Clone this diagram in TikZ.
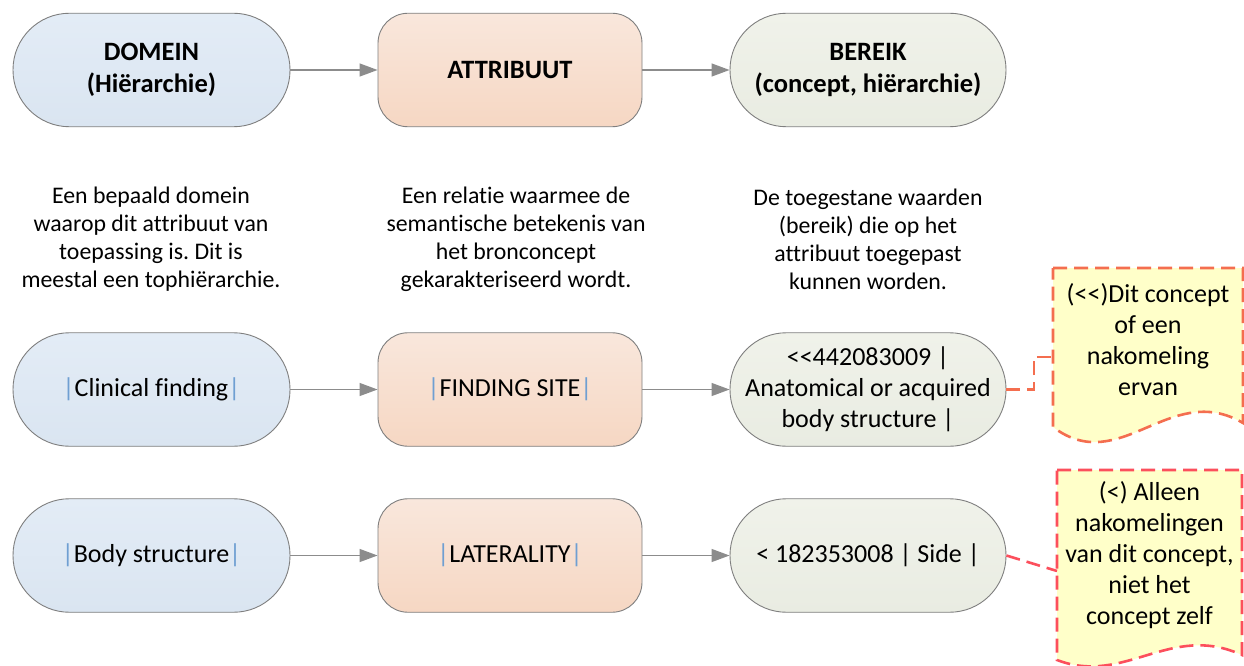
\documentclass[tikz,border=0pt]{standalone}
\usepackage{fontspec}
\setmainfont{Carlito}[Ligatures=NoCommon]
\usetikzlibrary{arrows.meta,calc}
\frenchspacing

\definecolor{edgegray}{HTML}{7F7F7F}
\definecolor{arrowgray}{HTML}{8C8C8C}
\definecolor{domtop}{HTML}{E3ECF6}
\definecolor{dombot}{HTML}{DAE5F1}
\definecolor{atttop}{HTML}{F9E7DC}
\definecolor{attbot}{HTML}{F6D7C3}
\definecolor{rngtop}{HTML}{F0F2EA}
\definecolor{rngbot}{HTML}{E9ECE2}
\definecolor{barblue}{HTML}{6F9FD2}
\definecolor{notefill}{HTML}{FFFFC9}
\definecolor{noteorange}{HTML}{F46E4F}
\definecolor{notered}{HTML}{FC4F5C}

% coloured separators around concept names
\newcommand\sctbar{\textcolor{barblue}{|}}
% two separate less-than signs (no guillemet ligature)
\newcommand\desc{<\kern0pt<}

\begin{document}
\begin{tikzpicture}[x=1pt,y=-1pt,
  base/.style={draw=edgegray, line width=0.9pt, minimum height=113.5pt,
    inner sep=0pt, align=center, font=\fontsize{26}{31}\selectfont},
  headfont/.style={font=\fontsize{26.5}{32}\selectfont\bfseries},
  domainbox/.style={base, minimum width=277pt, rounded corners=56.5pt,
    top color=domtop, bottom color=dombot},
  attrbox/.style={base, minimum width=264pt, rounded corners=30pt,
    top color=atttop, bottom color=attbot},
  rangebox/.style={base, minimum width=276pt, rounded corners=56.5pt,
    top color=rngtop, bottom color=rngbot},
  desctext/.style={align=center, inner sep=0pt, font=\fontsize{23.8}{28}\selectfont},
  notetext/.style={align=center, inner sep=0pt, font=\fontsize{26}{31}\selectfont},
  flow/.style={draw=arrowgray, line width=1.3pt, -{Triangle[length=18pt,width=13pt]}},
  notedash/.style={line width=2.6pt, dash pattern=on 14pt off 7pt},
]
\useasboundingbox[fill=white] (0,0) rectangle (1244,666);

% header row
\node[domainbox, headfont] (d1) at (151.5,70) {DOMEIN\\(Hiërarchie)};
\node[attrbox, headfont]   (a1) at (510,70)   {ATTRIBUUT};
\node[rangebox, headfont]  (r1) at (868,70)   {BEREIK\\(concept, hiërarchie)};
\draw[flow] (d1) -- (a1);
\draw[flow] (a1) -- (r1);

% explanations
\node[desctext] (t1) at (151,239) {Een bepaald domein\\waarop dit attribuut van\\toepassing is. Dit is\\meestal een tophiërarchie.};
\node[desctext] (t2) at (516,239) {Een relatie waarmee de\\semantische betekenis van\\het bronconcept\\gekarakteriseerd wordt.};
\node[desctext] (t3) at (868,239) {De toegestane waarden\\(bereik) die op het\\attribuut toegepast\\kunnen worden.};

% example 1
\node[domainbox] (d2) at (151.5,389.5) {\sctbar Clinical finding\sctbar};
\node[attrbox]   (a2) at (510,389.5)   {\sctbar FINDING SITE\sctbar};
\node[rangebox]  (r2) at (868,389.5)   {\desc442083009 |\\Anatomical or acquired\\body structure |};
\draw[flow] (d2) -- (a2);
\draw[flow] (a2) -- (r2);

% example 2
\node[domainbox] (d3) at (151.5,555.5) {\sctbar Body structure\sctbar};
\node[attrbox]   (a3) at (510,555.5)   {\sctbar LATERALITY\sctbar};
\node[rangebox]  (r3) at (868,555.5)   {< 182353008 | Side |};
\draw[flow] (d3) -- (a3);
\draw[flow] (a3) -- (r3);

% note 1: document shape
\draw[notedash, draw=noteorange, fill=notefill]
  (1053,268) -- (1243,268) -- (1243,423)
  .. controls (1170,380) and (1120,478) .. (1053,427) -- cycle;
\node[notetext] (n1) at (1148,340) {(\desc)Dit concept\\of een\\nakomeling\\ervan};
\coordinate (n1in) at (1053,357);
\coordinate (n1bend) at (1034,357);
\draw[notedash, draw=noteorange] (r2.east) -| (n1bend) -- (n1in);

% note 2: document shape
\draw[notedash, draw=notered, fill=notefill]
  (1057,470) -- (1242,470) -- (1242,655)
  .. controls (1170,622) and (1125,686) .. (1057,660) -- cycle;
\node[notetext] (n2) at (1149.5,555.5) {(<) Alleen\\nakomelingen\\van dit concept,\\niet het\\concept zelf};
\coordinate (n2in) at (1057,571);
\draw[notedash, draw=notered] (r3.east) -- (n2in);
\end{tikzpicture}
\end{document}
